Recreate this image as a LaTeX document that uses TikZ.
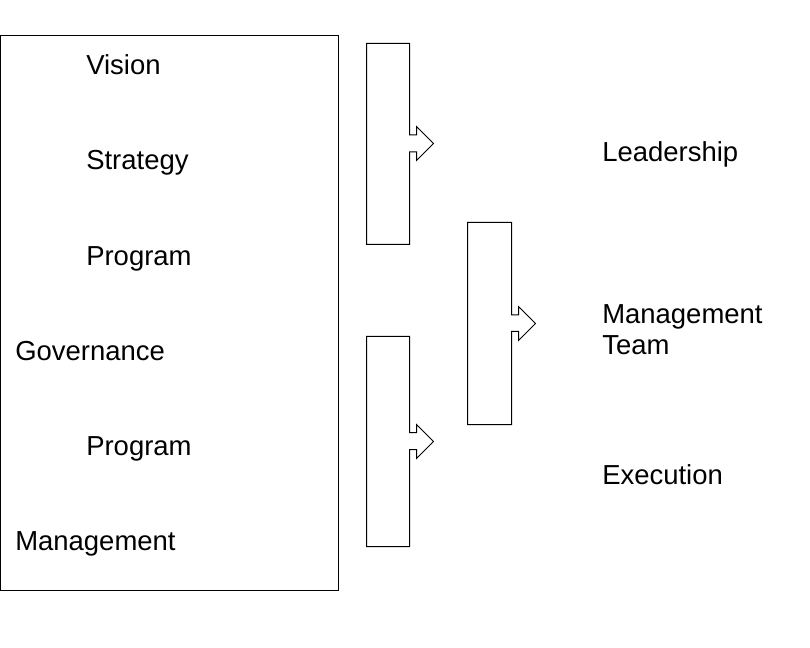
\documentclass[tikz,border=0pt]{standalone}
\usepackage{fontspec}
\setmainfont{Liberation Sans}
\begin{document}
\begin{tikzpicture}[x=0.75pt,y=-0.75pt,
  shapeline/.style={draw=black,line width=0.75pt,line join=miter},
  lbl/.style={anchor=base west,inner sep=0pt,font=\fontsize{20.6}{23.5}\selectfont}]
\useasboundingbox (0,0) rectangle (810,648);
% big frame
\draw[shapeline] (0.5,35.5) rectangle (338.5,590.5);
% left texts
\node[lbl] (vision)   at (86,74.5)  {Vision};
\node[lbl] (strategy) at (86,169.8) {Strategy};
\node[lbl] (prog1)    at (86,265.2) {Program};
\node[lbl] (gov)      at (15,360.6) {Governance};
\node[lbl] (prog2)    at (86,455.5) {Program};
\node[lbl] (mgmt)     at (15,550)   {Management};
% bracket arrows
\draw[shapeline] (366.5,43.5) -- (409.5,43.5) -- (409.5,135) -- (416.5,135) -- (416.5,126.5)
  -- (433.5,143.5) -- (416.5,160.5) -- (416.5,152) -- (409.5,152) -- (409.5,244.5)
  -- (366.5,244.5) -- cycle;
\draw[shapeline] (366.5,336.5) -- (409.5,336.5) -- (409.5,432.5) -- (416.5,432.5) -- (416.5,424.5)
  -- (433.5,441.5) -- (416.5,458.5) -- (416.5,449.5) -- (409.5,449.5) -- (409.5,546.5)
  -- (366.5,546.5) -- cycle;
\draw[shapeline] (467.5,222.5) -- (511.5,222.5) -- (511.5,315) -- (518.5,315) -- (518.5,306.5)
  -- (535.5,323.5) -- (518.5,340.5) -- (518.5,331.5) -- (511.5,331.5) -- (511.5,424.5)
  -- (467.5,424.5) -- cycle;
% right texts
\node[lbl] (lead) at (602,161.2) {Leadership};
\node[lbl,align=left] (team) at (602,354.5) {Management\\Team};
\node[lbl] (exec) at (602,484.5) {Execution};
\end{tikzpicture}
\end{document}
